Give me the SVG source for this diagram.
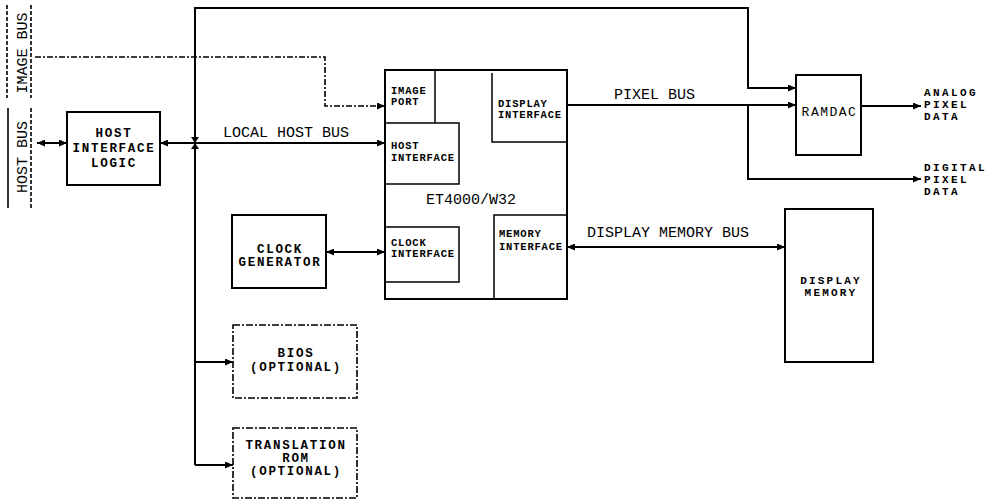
<svg xmlns="http://www.w3.org/2000/svg" width="991" height="501" viewBox="0 0 991 501">
<style>
  .bg{fill:#fff}
  .box{fill:#fff;stroke:#000;stroke-width:2}
  .opt{fill:#fff;stroke:#000;stroke-width:1.6;stroke-dasharray:7 2 2 2}
  .sub{fill:none;stroke:#000;stroke-width:1.5}
  .ln{fill:none;stroke:#000;stroke-width:2}
  .dash{fill:none;stroke:#000;stroke-width:1.6;stroke-dasharray:6 2 2 2}
  .side{fill:none;stroke:#000;stroke-width:1.6}
  .sided{fill:none;stroke:#000;stroke-width:1.6;stroke-dasharray:4 2}
  text{font-family:"Liberation Mono","Courier New",monospace;fill:#000}
  .t{font-size:12.5px;font-weight:bold;letter-spacing:1.7px;text-anchor:middle}
  .l{font-size:15px}
  .r{font-size:11px;letter-spacing:2.4px;font-weight:bold}
  .s{font-size:10.5px;font-weight:bold;letter-spacing:0.8px}
  .m{font-size:11px;letter-spacing:2.2px;font-weight:bold;text-anchor:middle}
</style>
<defs>
  <marker id="ah" viewBox="0 0 8 7" refX="8" refY="3.5" markerWidth="8" markerHeight="7" markerUnits="userSpaceOnUse" orient="auto-start-reverse">
    <path d="M0,0 L8,3.5 L0,7 z" fill="#000"/>
  </marker>
</defs>
<rect class="bg" x="0" y="0" width="991" height="501"/>

<g id="bus-labels">
  <line class="sided" x1="7" y1="5" x2="7" y2="98"/>
  <line class="sided" x1="31" y1="5" x2="31" y2="98"/>
  <text class="l" text-anchor="middle" transform="translate(27,53) rotate(-90)">IMAGE BUS</text>
  <line class="side" x1="8" y1="108" x2="8" y2="208"/>
  <line class="sided" x1="31" y1="108" x2="31" y2="208"/>
  <text class="l" text-anchor="middle" transform="translate(27,157) rotate(-90)">HOST BUS</text>
</g>

<g id="connectors">
  <line class="ln" x1="37" y1="143" x2="67" y2="143" marker-start="url(#ah)" marker-end="url(#ah)"/>
  <line class="ln" x1="160" y1="143" x2="385" y2="143" marker-start="url(#ah)" marker-end="url(#ah)"/>
  <path class="ln" d="M195,465 V8 H748 V88 H796" marker-end="url(#ah)"/>
  <line class="ln" x1="195" y1="362" x2="233" y2="362" marker-end="url(#ah)"/>
  <line class="ln" x1="195" y1="465" x2="233" y2="465" marker-end="url(#ah)"/>
  <polygon points="191,137 199,137 195,143 199,149 191,149 195,143" fill="#000"/>
  <path class="dash" d="M35,57 H325 V106 H385" marker-end="url(#ah)"/>
  <line class="ln" x1="326" y1="252" x2="385" y2="252" marker-start="url(#ah)" marker-end="url(#ah)"/>
  <line class="ln" x1="567" y1="105" x2="796" y2="105" marker-end="url(#ah)"/>
  <path class="ln" d="M748,105 V179 H921" marker-end="url(#ah)"/>
  <line class="ln" x1="861" y1="106" x2="921" y2="106" marker-end="url(#ah)"/>
  <line class="ln" x1="567" y1="247" x2="785" y2="247" marker-start="url(#ah)" marker-end="url(#ah)"/>
  <text class="l" x="223" y="137">LOCAL HOST BUS</text>
  <text class="l" x="614" y="99">PIXEL BUS</text>
  <text class="l" x="587" y="237">DISPLAY MEMORY BUS</text>
  <text class="r" x="924" y="96">ANALOG</text>
  <text class="r" x="924" y="108">PIXEL</text>
  <text class="r" x="924" y="120">DATA</text>
  <text class="r" x="924" y="171">DIGITAL</text>
  <text class="r" x="924" y="183">PIXEL</text>
  <text class="r" x="924" y="195">DATA</text>
</g>

<g id="host-interface-logic">
  <rect class="box" x="67" y="112" width="93" height="73"/>
  <text class="t" x="114" y="137">HOST</text>
  <text class="t" x="114" y="152">INTERFACE</text>
  <text class="t" x="114" y="167">LOGIC</text>
</g>

<g id="et4000">
  <rect class="box" x="385" y="70" width="182" height="229"/>
  <text class="l" x="471" y="204" text-anchor="middle">ET4000/W32</text>
  <g id="image-port">
    <line class="sub" x1="435" y1="70" x2="435" y2="123"/>
    <text class="s" x="391" y="94">IMAGE</text>
    <text class="s" x="391" y="105">PORT</text>
  </g>
  <g id="host-interface">
    <path class="sub" d="M385,123 H459 V184 H385"/>
    <text class="s" x="391" y="149">HOST</text>
    <text class="s" x="391" y="161">INTERFACE</text>
  </g>
  <g id="display-interface">
    <path class="sub" d="M492,73 V142 H567"/>
    <text class="s" x="498" y="107">DISPLAY</text>
    <text class="s" x="498" y="118">INTERFACE</text>
  </g>
  <g id="clock-interface">
    <path class="sub" d="M385,227 H459 V282 H385"/>
    <text class="s" x="391" y="246">CLOCK</text>
    <text class="s" x="391" y="257">INTERFACE</text>
  </g>
  <g id="memory-interface">
    <path class="sub" d="M494,299 V215 H567"/>
    <text class="s" x="499" y="237">MEMORY</text>
    <text class="s" x="499" y="250">INTERFACE</text>
  </g>
</g>

<g id="clock-generator">
  <rect class="box" x="232" y="215" width="94" height="73"/>
  <text class="t" x="280" y="253">CLOCK</text>
  <text class="t" x="280" y="266">GENERATOR</text>
</g>

<g id="ramdac">
  <rect class="box" x="796" y="75" width="65" height="80"/>
  <text class="m" x="829.5" y="116" style="font-size:13px;letter-spacing:1.5px;font-weight:normal">RAMDAC</text>
</g>

<g id="display-memory">
  <rect class="box" x="785" y="209" width="88" height="153"/>
  <text class="m" x="831" y="284">DISPLAY</text>
  <text class="m" x="831" y="296">MEMORY</text>
</g>

<g id="bios">
  <rect class="opt" x="233" y="325" width="124" height="73"/>
  <text class="t" x="296" y="357">BIOS</text>
  <text class="t" x="296" y="371">(OPTIONAL)</text>
</g>

<g id="translation-rom">
  <rect class="opt" x="233" y="428" width="124" height="70"/>
  <text class="t" x="296" y="449">TRANSLATION</text>
  <text class="t" x="296" y="462">ROM</text>
  <text class="t" x="296" y="475">(OPTIONAL)</text>
</g>
</svg>
